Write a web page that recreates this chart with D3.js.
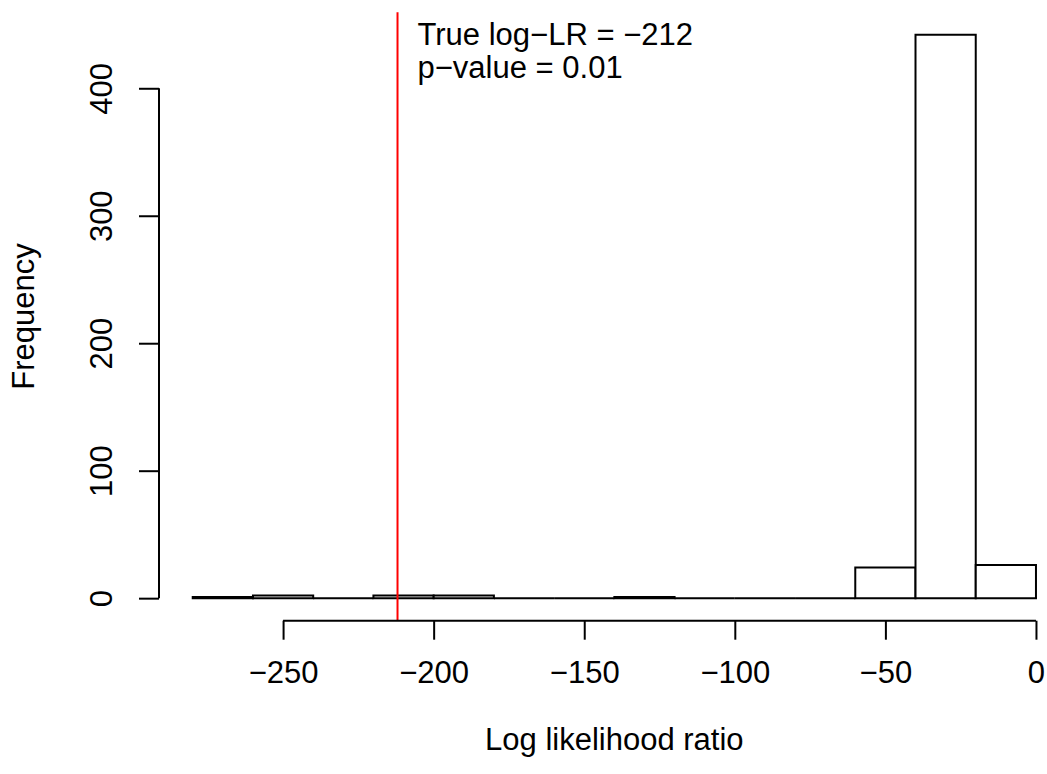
<!DOCTYPE html>
<html lang="en">
<head>
	<meta charset="utf-8">
	<title>Log likelihood ratio</title>
	<script src="https://cdn.jsdelivr.net/npm/d3@7"></script>
	<style>
		body { margin: 0; background: #fff; }
		text { font-family: "Liberation Sans", Arial, Helvetica, sans-serif; font-size: 31px; fill: #000; }
	</style>
</head>
<body>
	<div id="chart"></div>
	<script>
		// histogram data
		var binStarts = [-280, -260, -240, -220, -200, -180, -160, -140, -120, -100, -80, -60, -40, -20];
		var binWidth = 20;
		var counts = [1, 2, 0, 2, 2, 0, 0, 1, 0, 0, 0, 24, 442, 26];
		var xTicks = [-250, -200, -150, -100, -50, 0];
		var yTicks = [0, 100, 200, 300, 400];
		var trueLR = -212;
		var noteLines = ["True log\u2212LR = \u2212212", "p\u2212value = 0.01"];

		var width = 1047,
		    height = 774;

		// plot region (R style, axes padded 4%)
		var plotLeft = 159, plotRight = 1069.7, plotTop = 12.2, plotBottom = 620.7;

		var svg = d3.select("#chart")
			.append("svg")
			.attr("width", width)
			.attr("height", height);

		var xMin = binStarts[0], xMax = binStarts[binStarts.length - 1] + binWidth;
		var xPad = (xMax - xMin) * 0.04;
		var x = d3.scaleLinear()
			.domain([xMin - xPad, xMax + xPad])
			.range([plotLeft, plotRight]);

		var yMax = d3.max(counts);
		var yPad = yMax * 0.04;
		var y = d3.scaleLinear()
			.domain([-yPad, yMax + yPad])
			.range([plotBottom, plotTop]);

		var fmt = function(d) { return String(d).replace("-", "\u2212"); };

		// bars as closed paths so empty bins still show their base line
		svg.selectAll(".bar")
			.data(counts)
		.enter().append("path")
			.attr("class", "bar")
			.attr("d", function(d, i) {
				var x0 = x(binStarts[i]), x1 = x(binStarts[i] + binWidth);
				return "M" + x0 + "," + y(0) + "V" + y(d) + "H" + x1 + "V" + y(0) + "Z";
			})
			.attr("fill", "#fff")
			.attr("stroke", "#000")
			.attr("stroke-width", 2);

		// red line for the observed value
		svg.append("line")
			.attr("x1", x(trueLR)).attr("x2", x(trueLR))
			.attr("y1", plotTop).attr("y2", plotBottom)
			.attr("stroke", "#ff0000")
			.attr("stroke-width", 2);

		// x axis
		var xAxis = svg.append("g")
			.attr("transform", "translate(0," + plotBottom + ")")
			.call(d3.axisBottom(x).tickValues(xTicks).tickFormat(fmt).tickSize(19).tickSizeOuter(0));
		xAxis.select(".domain").remove();
		xAxis.append("line")
			.attr("x1", x(xTicks[0])).attr("x2", x(xTicks[xTicks.length - 1]))
			.attr("stroke", "#000").attr("stroke-width", 2);
		xAxis.selectAll(".tick line").attr("stroke", "#000").attr("stroke-width", 2);
		xAxis.selectAll(".tick text")
			.attr("font-size", null).attr("font-family", null)
			.attr("dy", null)
			.attr("y", 62);

		// y axis
		var yAxis = svg.append("g")
			.attr("transform", "translate(" + plotLeft + ",0)")
			.call(d3.axisLeft(y).tickValues(yTicks).tickSize(20).tickSizeOuter(0));
		yAxis.select(".domain").remove();
		yAxis.append("line")
			.attr("y1", y(yTicks[0])).attr("y2", y(yTicks[yTicks.length - 1]))
			.attr("stroke", "#000").attr("stroke-width", 2);
		yAxis.selectAll(".tick line").attr("stroke", "#000").attr("stroke-width", 2);
		yAxis.selectAll(".tick text")
			.attr("font-size", null).attr("font-family", null)
			.attr("x", null).attr("dy", null)
			.attr("text-anchor", "middle")
			.attr("transform", "translate(-47,0) rotate(-90)");

		// axis titles
		svg.append("text")
			.attr("x", (plotLeft + plotRight) / 2)
			.attr("y", 750)
			.attr("text-anchor", "middle")
			.text("Log likelihood ratio");

		svg.append("text")
			.attr("transform", "translate(34," + (plotTop + plotBottom) / 2 + ") rotate(-90)")
			.attr("text-anchor", "middle")
			.text("Frequency");

		// annotation
		svg.selectAll(".note")
			.data(noteLines)
		.enter().append("text")
			.attr("class", "note")
			.attr("x", x(trueLR) + 20)
			.attr("y", function(d, i) { return 45 + i * 33; })
			.text(function(d) { return d; });
	</script>
</body>
</html>
